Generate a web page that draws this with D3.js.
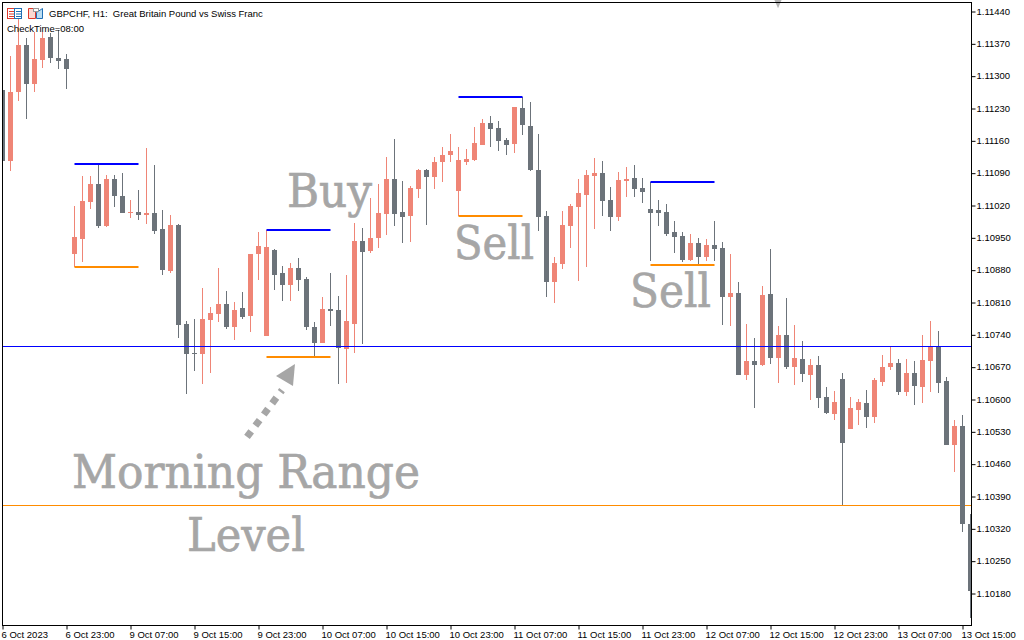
<!DOCTYPE html>
<html><head><meta charset="utf-8">
<script src="https://cdn.jsdelivr.net/npm/d3@7"></script>
<style>html,body{margin:0;padding:0;background:#fff;overflow:hidden}svg{display:block}text{font-family:"Liberation Sans",sans-serif}</style>
</head><body><svg id="c" width="1024" height="640"></svg>
<script>
const title = "GBPCHF, H1:  Great Britain Pound vs Swiss Franc";
const inputLabel = "CheckTime=08:00";
const timeLabels = ["6 Oct 2023","6 Oct 23:00","9 Oct 07:00","9 Oct 15:00","9 Oct 23:00","10 Oct 07:00","10 Oct 15:00","10 Oct 23:00","11 Oct 07:00","11 Oct 15:00","11 Oct 23:00","12 Oct 07:00","12 Oct 15:00","12 Oct 23:00","13 Oct 07:00","13 Oct 15:00"];
const priceTicks = [1.11440,1.11370,1.11300,1.11230,1.11160,1.11090,1.11020,1.10950,1.10880,1.10810,1.10740,1.10670,1.10600,1.10530,1.10460,1.10390,1.10320,1.10250,1.10180];
// candle bodies: upper and lower edge, wick high and low, in points above 1.10000
const bodyTop = [1269,1265,1366,1366,1336,1382,1384,1338,1336,951,1029,1065,1065,1076,1076,1039,1005,1005,1003,1003,968,977,977,762,699,773,786,806,806,793,797,914,931,929,923,873,884,884,860,756,795,795,793,769,942,942,949,1003,1076,1076,1005,1057,1096,1096,1113,1128,1137,1117,1120,1154,1197,1197,1187,1161,1232,1230,1191,1096,996,894,977,1018,1046,1085,1089,1089,1031,1074,1076,1078,1057,1011,1009,1005,961,953,938,938,933,933,927,829,829,682,682,825,827,738,738,689,687,674,674,604,593,643,581,593,591,641,669,678,678,656,656,684,715,715,639,542,542,329];
const bodyBottom = [1115,1115,1265,1282,1282,1334,1338,1332,1314,914,946,1026,975,975,1039,1003,1003,998,998,964,879,877,760,697,697,697,771,784,756,756,777,780,914,736,868,847,847,858,756,721,721,790,710,708,762,918,920,949,1000,1000,994,996,1055,1081,1081,1113,1128,1050,1113,1117,1150,1184,1159,1150,1152,1193,1096,994,853,853,892,975,1016,1042,1083,1029,994,994,1072,1055,1048,1003,1003,957,951,901,901,907,907,925,821,821,652,652,674,674,689,689,669,669,654,652,602,570,567,505,535,576,561,561,637,669,615,615,628,626,682,635,500,500,329,184];
const wickHigh = [1273,1343,1446,1382,1395,1395,1392,1399,1347,1018,1083,1083,1107,1085,1085,1089,1031,1052,1143,1107,1009,998,979,769,773,840,799,884,834,810,832,914,962,966,925,888,894,905,864,767,821,873,823,868,981,970,1035,1065,1124,1163,1072,1061,1098,1098,1124,1146,1174,1146,1141,1189,1206,1213,1202,1165,1232,1254,1243,1174,1007,907,1007,1022,1076,1096,1122,1115,1059,1091,1102,1107,1078,1070,1031,1022,985,961,957,949,946,985,940,914,853,762,732,845,925,758,819,760,726,687,693,626,617,656,604,600,620,645,695,715,687,687,682,739,769,747,648,555,565,351];
const wickLow = [1096,1094,1245,1206,1265,1317,1327,1314,1271,886,897,1011,970,972,1016,1003,992,988,979,957,868,873,732,611,661,632,656,767,752,728,773,745,858,736,836,812,812,834,749,691,721,758,632,635,700,719,916,927,955,975,938,940,1035,977,1055,1070,1113,996,1107,1115,1150,1146,1137,1128,1133,1172,1094,964,821,808,881,927,855,886,968,996,964,985,1037,1037,1024,899,975,953,916,897,899,890,899,899,760,758,652,641,581,671,676,635,665,630,637,598,581,567,554,370,535,544,537,548,628,663,609,606,587,591,615,613,500,442,312,126];
// close above open for these bars (drawn salmon); every other bar is a falling bar
const risingBars = [1,2,4,5,9,10,11,13,16,18,21,25,26,27,29,31,32,33,36,40,43,44,46,47,48,51,52,54,55,56,57,58,59,60,64,69,70,71,72,73,74,77,78,86,88,91,93,95,97,99,101,104,106,107,109,110,111,113,115,116,119];
const rangeStartBar = [9,33,57,81];
const rangeEndBar = [17,41,65,89];
const rangeHigh = [1108,966,1254,1070];
const rangeLow = [886,691,996,890];
const buyLevel = 714;
const sellLevel = 370;
const noteTexts = ["Buy","Sell","Sell","Morning Range","Level"];
const noteBar = [35.56,56.44,78.44,8.69,23.06];
const notePoint = [1016,903,799,407,271];
const noteWidth = [85,80,81,348,118];
const arrowBar = [30.56,34.94];
const arrowPoint = [518,619];
const headBar = [36.56,34.19,36.31];
const headPoint = [676,650,628];
const shiftBar = [96.19,97.69,96.94];
const shiftPoint = [1476,1476,1446];

const colRise="#EF8576", colFall="#6C737A", colNote="#A6A6A6";
const price = v => 1.1 + v/100000;
const svg = d3.select("#c");
const x = d3.scaleLinear().domain([0,121]).range([2.5,970.5]);
const y = d3.scaleLinear().domain([1.11440,1.10180]).range([11,593]);
const py = v => Math.round(y(price(v)));
svg.append("defs").append("clipPath").attr("id","plot").append("rect").attr("x",3).attr("y",3).attr("width",968).attr("height",622);
const plot = svg.append("g").attr("clip-path","url(#plot)");
const bars = d3.range(bodyTop.length);
const isRise = i => risingBars.includes(i);

// sell level sits behind the candles
plot.append("rect").attr("x",3).attr("width",968).attr("y",py(sellLevel)).attr("height",1).attr("fill","#FF8C00");

plot.append("g").selectAll("rect").data(bars).join("rect")
  .attr("x",i=>x(i)-.5).attr("width",1)
  .attr("y",i=>py(wickHigh[i])).attr("height",i=>py(wickLow[i])-py(wickHigh[i]))
  .attr("fill",i=>isRise(i)?colRise:colFall);
plot.append("g").selectAll("rect").data(bars).join("rect")
  .attr("x",i=>x(i)-2.5).attr("width",5)
  .attr("y",i=>py(bodyTop[i])).attr("height",i=>Math.max(1,py(bodyBottom[i])-py(bodyTop[i])))
  .attr("fill",i=>isRise(i)?colRise:colFall);

// buy level over the candles
plot.append("rect").attr("x",3).attr("width",968).attr("y",py(buyLevel)).attr("height",1).attr("fill","#0000FF");

// morning ranges
const rg = plot.append("g");
rangeStartBar.forEach((s,k)=>{
  rg.append("rect").attr("x",x(s)).attr("width",x(rangeEndBar[k])-x(s)).attr("y",py(rangeHigh[k])-1).attr("height",2).attr("fill","#0000FF");
  rg.append("rect").attr("x",x(s)).attr("width",x(rangeEndBar[k])-x(s)).attr("y",py(rangeLow[k])-1).attr("height",2).attr("fill","#FF8C00");
});

// annotations
noteTexts.forEach((t,k)=>{
  svg.append("text").text(t).attr("x",x(noteBar[k])).attr("y",y(price(notePoint[k])))
    .attr("font-size",47).style("font-family","'DejaVu Serif',serif").attr("fill",colNote)
    .attr("stroke",colNote).attr("stroke-width",0.7)
    .attr("textLength",noteWidth[k]).attr("lengthAdjust","spacingAndGlyphs");
});
svg.append("line").attr("x1",x(arrowBar[0])).attr("y1",y(price(arrowPoint[0])))
  .attr("x2",x(arrowBar[1])).attr("y2",y(price(arrowPoint[1])))
  .attr("stroke",colNote).attr("stroke-width",7).attr("stroke-dasharray","7 7");
svg.append("polygon").attr("points",headBar.map((b,k)=>x(b)+","+y(price(headPoint[k]))).join(" ")).attr("fill",colNote);
svg.append("polygon").attr("points",shiftBar.map((b,k)=>x(b)+","+y(price(shiftPoint[k]))).join(" ")).attr("fill","#B4B4B4");

// frame and axes
svg.append("rect").attr("x",2.5).attr("y",2.5).attr("width",969).attr("height",623).attr("fill","none").attr("stroke","#000");
const yAxis = d3.axisRight(y).tickValues(priceTicks).tickFormat(d3.format(".5f")).tickSize(4).tickPadding(1);
const gy = svg.append("g").attr("transform","translate(971.5,0)").call(yAxis);
gy.select(".domain").remove();
gy.selectAll("line").attr("stroke","#000").attr("transform","translate(0,.5)");
gy.selectAll("text").attr("font-size",9.5).style("font-family","'Liberation Sans'").attr("fill","#000");
const xTick = d3.scaleLinear().domain([0,15]).range([2.5,962.5]);
const gx = svg.append("g").attr("transform","translate(0,625.5)").call(
  d3.axisBottom(xTick).tickValues(d3.range(timeLabels.length)).tickFormat(i=>timeLabels[i]).tickSize(4).tickPadding(2));
gx.select(".domain").remove();
gx.selectAll("line").attr("stroke","#000");
gx.selectAll("text").attr("font-size",9.5).attr("text-anchor","start").attr("dx",-1.5).style("font-family","'Liberation Sans'").attr("fill","#000");

// header
svg.append("text").text(title).attr("x",49).attr("y",17).attr("font-size",9.5).attr("fill","#000").attr("xml:space","preserve").style("white-space","pre");
svg.append("text").text(inputLabel).attr("x",7).attr("y",32).attr("font-size",9.5).attr("fill","#000");
const ic = svg.append("g");
ic.append("rect").attr("x",7.5).attr("y",8.5).attr("width",7).attr("height",10).attr("fill","#fff").attr("stroke","#E0392B");
ic.append("rect").attr("x",14.5).attr("y",8.5).attr("width",7).attr("height",10).attr("fill","#fff").attr("stroke","#1F6FB5");
d3.range(3).forEach(k=>{
  ic.append("rect").attr("x",9).attr("y",11+k*2.5).attr("width",5).attr("height",1).attr("fill","#E0392B");
  ic.append("rect").attr("x",16).attr("y",11+k*2.5).attr("width",5).attr("height",1).attr("fill","#1F6FB5");
});
ic.append("path").attr("d","M28.5 8.5h7v10h-7z").attr("fill","#FBD9D2").attr("stroke","#E0392B");
ic.append("path").attr("d","M36.5 12.5l6-4v10h-6z").attr("fill","#BBDDF2").attr("stroke","#1F6FB5");
ic.append("rect").attr("x",33.5).attr("y",8.5).attr("width",5).attr("height",3).attr("fill","#fff").attr("stroke","#999");
</script></body></html>
